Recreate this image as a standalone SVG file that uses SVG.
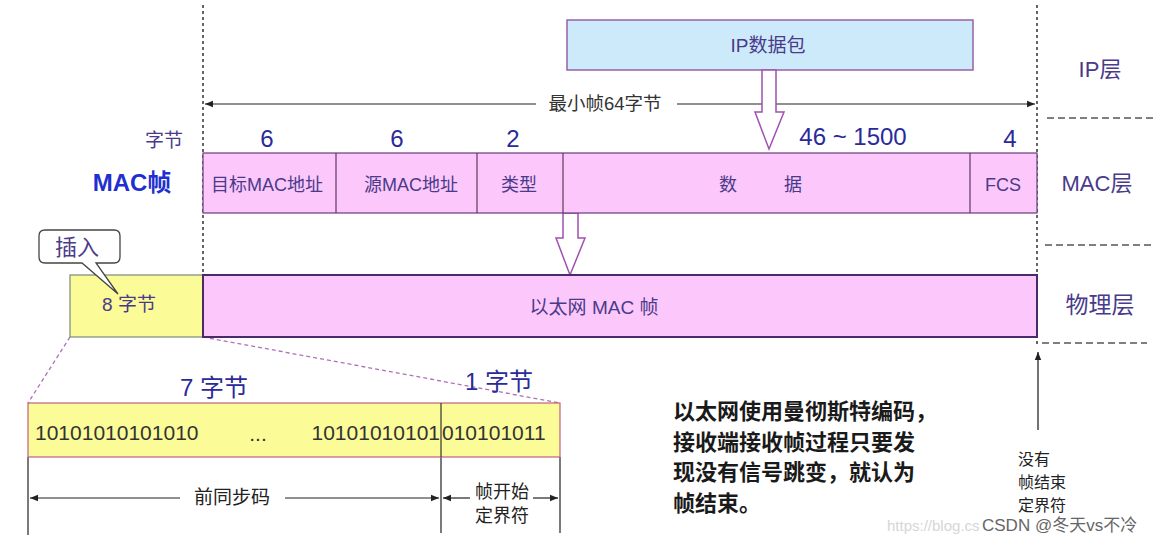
<svg xmlns="http://www.w3.org/2000/svg" width="1168" height="545" viewBox="0 0 1168 545">
<defs>
<style>
.t{font-family:"Liberation Sans","Noto Sans CJK SC",sans-serif}
.blue{fill:#2a2a9a}
.lbl{fill:#4a3a8a}
.dark{fill:#222}
.pink{fill:#fcc8fc;stroke:#6a3a7a;stroke-width:1.2}
.dash{stroke:#333;stroke-width:1.5;stroke-dasharray:3,3;fill:none}
.ldash{stroke:#555;stroke-width:1.5;stroke-dasharray:7,4;fill:none}
.ln{stroke:#222;stroke-width:1.2;fill:none}
.hollow{fill:#fff;stroke:#a050b0;stroke-width:1.5}
</style>
<marker id="ah" viewBox="0 0 10 10" refX="10" refY="5" markerWidth="8" markerHeight="8" orient="auto-start-reverse" markerUnits="userSpaceOnUse">
<path d="M0,1 L10,5 L0,9 z" fill="#222"/>
</marker>
</defs>
<rect width="1168" height="545" fill="#fff"/>

<g id="guides">
<line class="dash" x1="203" y1="5" x2="203" y2="275"/>
<line class="dash" x1="1037" y1="5" x2="1037" y2="345"/>
<line class="ldash" x1="1047" y1="118" x2="1155" y2="118"/>
<line class="ldash" x1="1045" y1="245" x2="1153" y2="245"/>
<line class="ldash" x1="1042" y1="343" x2="1147" y2="343"/>
</g>

<g id="ip-packet">
<rect x="567" y="20" width="406" height="50" fill="#cdeafa" stroke="#9a60a8" stroke-width="1.5"/>
<text class="t lbl" x="768" y="52" text-anchor="middle" font-size="19">IP数据包</text>
</g>

<g id="layer-labels">
<text class="t lbl" x="1100" y="77" text-anchor="middle" font-size="22">IP层</text>
<text class="t lbl" x="1097" y="191" text-anchor="middle" font-size="22">MAC层</text>
<text class="t lbl" x="1100" y="313" text-anchor="middle" font-size="23">物理层</text>
</g>

<g id="connectors">
<line class="ln" x1="205" y1="104" x2="536" y2="104" marker-start="url(#ah)"/>
<line class="ln" x1="677" y1="104" x2="1035" y2="104" marker-end="url(#ah)"/>
<path class="hollow" d="M762,70 L776,70 L776,112 L784,112 L769,149 L755,112 L762,112 Z"/>
<path class="hollow" d="M563,213 L578,213 L578,238 L585,238 L570,275 L556,238 L563,238 Z"/>
<line stroke="#b070b8" stroke-width="1.3" stroke-dasharray="4,3" x1="70" y1="337" x2="28" y2="403"/>
<line stroke="#b070b8" stroke-width="1.3" stroke-dasharray="4,3" x1="203" y1="337" x2="560" y2="403"/>
<line class="ln" x1="28" y1="457" x2="28" y2="535"/>
<line class="ln" x1="441" y1="457" x2="441" y2="533"/>
<line class="ln" x1="560" y1="457" x2="560" y2="533"/>
<line class="ln" x1="30" y1="498" x2="180" y2="498" marker-start="url(#ah)"/>
<line class="ln" x1="285" y1="498" x2="439" y2="498" marker-end="url(#ah)"/>
<line class="ln" x1="443" y1="498" x2="470" y2="498" marker-start="url(#ah)"/>
<line class="ln" x1="533" y1="498" x2="558" y2="498" marker-end="url(#ah)"/>
<line stroke="#444" stroke-width="1.5" x1="1038" y1="430" x2="1038" y2="352" marker-end="url(#ah)"/>
</g>
<text class="t" x="605" y="110" text-anchor="middle" font-size="18.5" fill="#333">最小帧64字节</text>

<g id="byte-counts">
<text class="t lbl" x="183" y="147" text-anchor="end" font-size="19">字节</text>
<text class="t blue" x="267" y="147" text-anchor="middle" font-size="24">6</text>
<text class="t blue" x="397" y="147" text-anchor="middle" font-size="24">6</text>
<text class="t blue" x="513" y="147" text-anchor="middle" font-size="24">2</text>
<text class="t blue" x="853" y="145" text-anchor="middle" font-size="24">46 ~ 1500</text>
<text class="t blue" x="1010" y="147" text-anchor="middle" font-size="24">4</text>
</g>

<g id="mac-label">
<text class="t" x="132" y="191" text-anchor="middle" font-size="24" font-weight="bold" fill="#1f2fd0">MAC帧</text>
</g>

<g id="mac-frame">
<rect class="pink" x="203" y="153" width="834" height="60"/>
<line stroke="#5a3a5a" stroke-width="1.2" x1="336" y1="153" x2="336" y2="213"/>
<line stroke="#5a3a5a" stroke-width="1.2" x1="477" y1="153" x2="477" y2="213"/>
<line stroke="#5a3a5a" stroke-width="1.2" x1="563" y1="153" x2="563" y2="213"/>
<line stroke="#5a3a5a" stroke-width="1.2" x1="970" y1="153" x2="970" y2="213"/>
<text class="t lbl" x="267" y="191" text-anchor="middle" font-size="18">目标MAC地址</text>
<text class="t lbl" x="411" y="191" text-anchor="middle" font-size="18">源MAC地址</text>
<text class="t lbl" x="519" y="191" text-anchor="middle" font-size="18">类型</text>
<text class="t lbl" x="728" y="191" text-anchor="middle" font-size="18">数</text>
<text class="t lbl" x="793" y="191" text-anchor="middle" font-size="18">据</text>
<text class="t lbl" x="1003" y="191" text-anchor="middle" font-size="18">FCS</text>
</g>

<g id="physical-frame">
<rect x="70" y="275" width="133" height="62" fill="#fbfb98" stroke="#7a8a7a" stroke-width="1.2"/>
<rect x="203" y="275" width="834" height="62" fill="#fcc8fc" stroke="#4a2a6a" stroke-width="2"/>
<text class="t lbl" x="129" y="311" text-anchor="middle" font-size="19">8 字节</text>
<text class="t lbl" x="594" y="314" text-anchor="middle" font-size="19">以太网 MAC 帧</text>
</g>

<g id="insert-callout">
<path d="M45,230 L114,230 Q120,230 120,236 L120,257 Q120,263 114,263 L96,263 L118,294 L82,263 L45,263 Q39,263 39,257 L39,236 Q39,230 45,230 Z" fill="#fff" stroke="#444" stroke-width="1.3"/>
<text class="t lbl" x="77" y="255" text-anchor="middle" font-size="22">插入</text>
</g>

<g id="preamble">
<text class="t blue" x="214" y="396" text-anchor="middle" font-size="24">7 字节</text>
<text class="t blue" x="499" y="390" text-anchor="middle" font-size="24">1 字节</text>
<rect x="28" y="403" width="532" height="54" fill="#fbfb98" stroke="#c06080" stroke-width="1.2"/>
<line stroke="#333" stroke-width="1.2" x1="441" y1="403" x2="441" y2="457"/>
<text class="t" x="35" y="440" font-size="21" fill="#333">10101010101010</text>
<text class="t" x="258" y="441" text-anchor="middle" font-size="21" fill="#333">...</text>
<text class="t" x="440" y="440" text-anchor="end" font-size="21" fill="#333">10101010101</text>
<text class="t" x="442" y="440" font-size="21" fill="#333">010101011</text>
<text class="t dark" x="232" y="504" text-anchor="middle" font-size="19">前同步码</text>
<text class="t dark" x="502" y="498" text-anchor="middle" font-size="18">帧开始</text>
<text class="t dark" x="502" y="522" text-anchor="middle" font-size="18">定界符</text>
</g>

<g id="note">
<text class="t" x="673" y="419" font-size="22" font-weight="bold" fill="#1a1a1a">以太网使用曼彻斯特编码，</text>
<text class="t" x="673" y="450" font-size="22" font-weight="bold" fill="#1a1a1a">接收端接收帧过程只要发</text>
<text class="t" x="673" y="480" font-size="22" font-weight="bold" fill="#1a1a1a">现没有信号跳变，就认为</text>
<text class="t" x="673" y="511" font-size="22" font-weight="bold" fill="#1a1a1a">帧结束。</text>
</g>

<g id="no-end">
<text class="t dark" x="1018" y="465" font-size="16">没有</text>
<text class="t dark" x="1018" y="488" font-size="16">帧结束</text>
<text class="t dark" x="1018" y="511" font-size="16">定界符</text>
</g>

<g id="watermark">
<text class="t" x="887" y="531" font-size="15" fill="#d6d6d6">https://blog.cs</text>
<text class="t" x="982" y="531" font-size="17" fill="#666">CSDN @冬天vs不冷</text>
</g>
</svg>
